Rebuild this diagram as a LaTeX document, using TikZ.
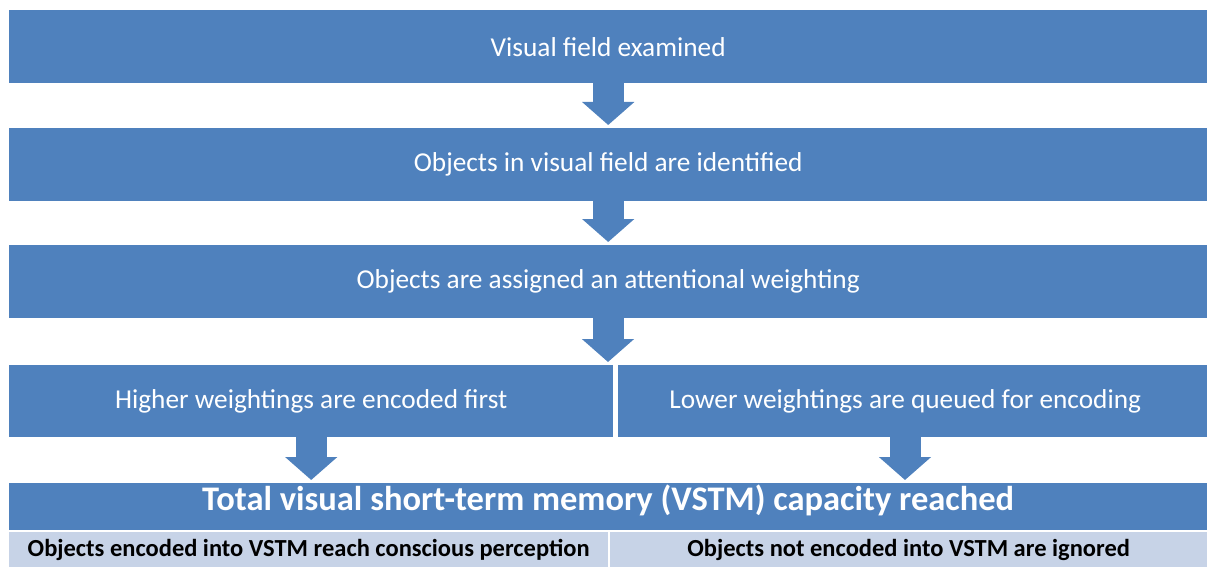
\documentclass[tikz,border=0pt]{standalone}
\usepackage{fontspec}
\setmainfont{Carlito}
\usetikzlibrary{arrows.meta}
\definecolor{mainblue}{HTML}{4F81BD}
\definecolor{paleblue}{HTML}{C7D3E7}
\begin{document}
\begin{tikzpicture}[x=1pt,y=-1pt,
  box/.style={fill=mainblue, text=white, inner sep=0pt, anchor=north west,
    font=\fontsize{27.3}{30}\selectfont},
  titlebox/.style={box, font=\fontsize{34.5}{38}\selectfont\bfseries,
    text height=22pt, text depth=14pt},
  palebox/.style={fill=paleblue, text=black, inner sep=0pt, anchor=north west,
    font=\fontsize{24.5}{27}\selectfont\bfseries},
  flow/.style={draw=mainblue, line width=31pt,
    -{Triangle[width=51pt,length=23pt]}, shorten >=3pt}]
\useasboundingbox (0,0) rectangle (1207,567);
\node[box, minimum width=1198pt, minimum height=73pt] (b1) at (9,10) {Visual field examined};
\node[box, minimum width=1198pt, minimum height=73pt] (b2) at (9,128) {Objects in visual field are identified};
\node[box, minimum width=1198pt, minimum height=73pt] (b3) at (9,245) {Objects are assigned an attentional weighting};
\node[box, minimum width=604pt, minimum height=72pt] (b4l) at (9,365) {Higher weightings are encoded first};
\node[box, minimum width=589pt, minimum height=72pt] (b4r) at (618,365) {\hspace*{-15pt}Lower weightings are queued for encoding};
\node[titlebox, minimum width=1198pt, minimum height=47pt] (b5) at (9,483) {Total visual short-term memory (VSTM) capacity reached};
\node[palebox, minimum width=599pt, minimum height=36pt] (b6l) at (9,532) {Objects encoded into VSTM reach conscious perception};
\node[palebox, minimum width=597pt, minimum height=36pt] (b6r) at (610,532) {Objects not encoded into VSTM are ignored};
\coordinate (a3) at (608,318);
\coordinate (a4) at (608,365);
\coordinate (r1) at (905,437);
\coordinate (r2) at (905,483);
\draw[flow] (b1.south) -- (b2.north);
\draw[flow] (b2.south) -- (b3.north);
\draw[flow] (a3) -- (a4);
\draw[flow] (b4l.south) -- (b4l.south |- b5.north);
\draw[flow] (r1) -- (r2);
\end{tikzpicture}
\end{document}
